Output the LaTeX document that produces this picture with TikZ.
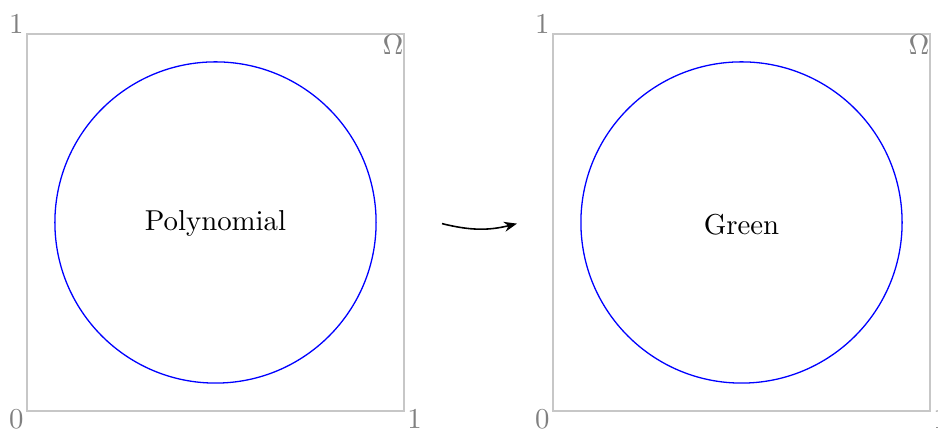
\documentclass[tikz,border=0pt]{standalone}
\usetikzlibrary{arrows.meta}
\begin{document}
\begin{tikzpicture}[x=4.6cm,y=4.6cm,
  domainbox/.style={draw=black!22, line width=0.45pt},
  disk/.style={draw=blue, line width=0.45pt},
  lbl/.style={text=black!50, inner xsep=1pt, inner ysep=0pt},
  lowlbl/.style={lbl, yshift=0.7pt},
  maparrow/.style={-{Stealth[length=4.5pt,width=3.5pt]}, line width=0.55pt}]
\useasboundingbox (-0.0716,-0.0531) rectangle (2.4164,1.0901);
% left panel
\coordinate (L0) at (0,0);
\coordinate (L1) at (1,1);
\coordinate (L10) at (1,0);
\coordinate (L01) at (0,1);
\draw[domainbox] (L0) rectangle (L1);
\draw[disk] (0.5,0.5) circle (0.426);
\node (pL) at (0.5,0.497) {Polynomial};
\node[lbl, anchor=south east] (oneLy) at (L01) {1};
\node[lowlbl, anchor=north east] (zeroL) at (L0) {0};
\node[lowlbl, anchor=north west] (oneLx) at (L10) {1};
\node[lbl, anchor=north east, inner sep=0pt] (omL) at (L1) {$\Omega$};
% right panel
\begin{scope}[xshift=1.3952*4.6cm]
\coordinate (R0) at (0,0);
\coordinate (R1) at (1,1);
\coordinate (R10) at (1,0);
\coordinate (R01) at (0,1);
\draw[domainbox] (R0) rectangle (R1);
\draw[disk] (0.5,0.5) circle (0.426);
\node (gR) at (0.5,0.494) {Green};
\node[lbl, anchor=south east] (oneRy) at (R01) {1};
\node[lowlbl, anchor=north east] (zeroR) at (R0) {0};
\node[lowlbl, anchor=north west] (oneRx) at (R10) {1};
\node[lbl, anchor=north east, inner sep=0pt] (omR) at (R1) {$\Omega$};
\end{scope}
% arrow
\coordinate (aS) at (1.1008,0.497);
\coordinate (aE) at (1.2997,0.497);
\draw[maparrow] (aS) to[bend right=14] (aE);
\end{tikzpicture}
\end{document}
